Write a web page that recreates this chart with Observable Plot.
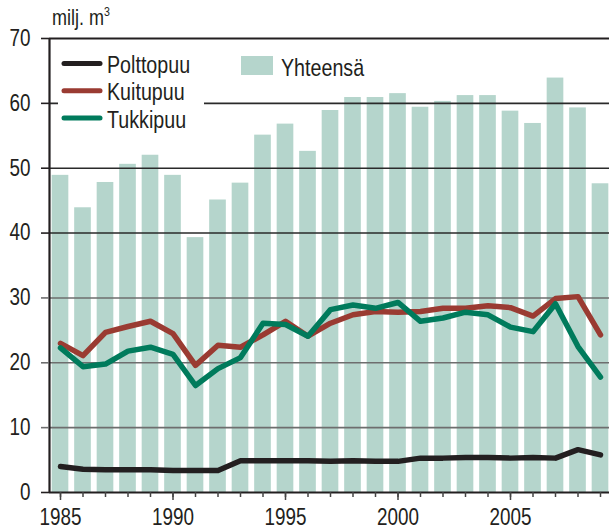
<!DOCTYPE html>
<html>
<head>
<meta charset="utf-8">
<script src="https://cdn.jsdelivr.net/npm/d3@7"></script>
<script src="https://cdn.jsdelivr.net/npm/@observablehq/plot@0.6"></script>
<style>
  html, body { margin: 0; padding: 0; background: #fff; }
  #wrap { position: relative; width: 609px; height: 531px; overflow: hidden;
          font-family: "Liberation Sans", Arial, sans-serif; color: #231f20; }
  #legend { position: absolute; left: 0; top: 0; }
</style>
</head>
<body>
<div id="wrap">
  <div id="chart"></div>
  <svg id="legend" width="609" height="140"></svg>
</div>
<script>
const years = d3.range(1985, 2010);
const yhteensa = [48.9, 43.9, 47.8, 50.6, 52.0, 48.9, 39.3, 45.1, 47.7, 55.1, 56.8, 52.6, 58.9, 60.9, 60.9, 61.5, 59.4, 60.3, 61.2, 61.2, 58.8, 56.9, 63.9, 59.3, 47.6];
const kuitupuu = [23.0, 21.1, 24.7, 25.6, 26.4, 24.5, 19.6, 22.7, 22.4, 24.3, 26.4, 24.1, 26.1, 27.4, 27.9, 27.8, 27.9, 28.4, 28.4, 28.8, 28.5, 27.2, 29.9, 30.2, 24.3];
const tukkipuu = [22.3, 19.4, 19.8, 21.8, 22.4, 21.3, 16.5, 19.1, 20.8, 26.1, 25.9, 24.1, 28.2, 28.9, 28.4, 29.3, 26.4, 26.9, 27.8, 27.4, 25.5, 24.8, 29.1, 22.5, 17.8];
const polttopuu = [4.0, 3.6, 3.5, 3.5, 3.5, 3.4, 3.4, 3.4, 4.9, 4.9, 4.9, 4.9, 4.8, 4.9, 4.8, 4.8, 5.3, 5.3, 5.4, 5.4, 5.3, 5.4, 5.3, 6.6, 5.8];
const yTicks = [0, 10, 20, 30, 40, 50, 60, 70];
const xLabelTicks = [1985, 1990, 1995, 2000, 2005];
const seriesNames = ["Polttopuu", "Kuitupuu", "Tukkipuu"];
const barName = "Yhteensä";
const unitLabel = "milj. m";
const unitSup = "3";

const colors = { Polttopuu: "#231f20", Kuitupuu: "#9a3b32", Tukkipuu: "#007b5c" };
const barColor = "#b5d5cc";
const font = '"Liberation Sans", Arial, sans-serif';
const narrow = 0.82;

const bars = years.map((y, i) => ({ year: y, total: yhteensa[i] }));
const lineData = [];
const seriesValues = { Polttopuu: polttopuu, Kuitupuu: kuitupuu, Tukkipuu: tukkipuu };
for (const s of seriesNames) years.forEach((y, i) => lineData.push({ year: y, series: s, value: seriesValues[s][i] }));

const xDomain = [1984.511, 2009.4];
const halfBar = 0.37;

const chart = Plot.plot({
  width: 609,
  height: 531,
  marginLeft: 49,
  marginRight: 0,
  marginTop: 38,
  marginBottom: 39,
  style: { fontFamily: font, fontSize: "23px", color: "#231f20", background: "transparent" },
  x: { type: "linear", domain: xDomain },
  y: { domain: [0, 70] },
  marks: [
    Plot.rectY(bars, { x1: d => d.year - halfBar, x2: d => d.year + halfBar, y1: 0, y2: "total", fill: barColor }),
    Plot.ruleY(yTicks.filter(v => v > 0 && v < 70), { y: d => d, stroke: d => d >= 40 ? "#2a2a2a" : "#6e6e6e", strokeWidth: 1.6 }),
    Plot.line(lineData, { x: "year", y: "value", z: "series", stroke: d => colors[d.series], strokeWidth: 5.5, strokeLinejoin: "round", strokeLinecap: "round" }),
    Plot.ruleY([70], { stroke: "#231f20", strokeWidth: 2 }),
    Plot.ruleY([0], { stroke: "#231f20", strokeWidth: 2 }),
    Plot.ruleX([xDomain[0]], { y1: 0, y2: 70, stroke: "#231f20", strokeWidth: 2.2 }),
    Plot.axisY(yTicks, { anchor: "left", tickSize: 8, tickPadding: 11, label: null, stroke: d => d >= 40 || d === 0 ? "#231f20" : "#6e6e6e", strokeWidth: 1.6, fontSize: 23 }),
    Plot.axisX(years, { anchor: "bottom", tickSize: 5, tickFormat: () => "", label: null, stroke: "#444", strokeWidth: 1.5 }),
    Plot.axisX(xLabelTicks, { anchor: "bottom", tickSize: 8, tickPadding: 8, tickFormat: d => String(d), label: null, stroke: "#444", strokeWidth: 1.5, fontSize: 23 })
  ]
});
document.getElementById("chart").appendChild(chart);

// legend and unit label
const lg = d3.select("#legend");
const unit = lg.append("text").attr("x", 52).attr("y", 25)
  .attr("font-family", font).attr("font-size", 22).attr("fill", "#231f20").text(unitLabel);
unit.append("tspan").attr("dy", -9).attr("font-size", 13).text(unitSup);

lg.append("rect").attr("x", 58).attr("y", 50).attr("width", 146).attr("height", 80).attr("fill", "#fff");
seriesNames.forEach((s, i) => {
  const cy = 63.5 + i * 27.2;
  lg.append("line").attr("x1", 64).attr("x2", 100).attr("y1", cy).attr("y2", cy)
    .attr("stroke", colors[s]).attr("stroke-width", 5).attr("stroke-linecap", "round");
  lg.append("text").attr("x", 107).attr("y", cy + 1).attr("dy", "0.36em")
    .attr("font-family", font).attr("font-size", 24).attr("fill", "#231f20").text(s);
});
lg.append("rect").attr("x", 241).attr("y", 56).attr("width", 32).attr("height", 19).attr("fill", barColor);
lg.append("text").attr("x", 281).attr("y", 67).attr("dy", "0.36em")
  .attr("font-family", font).attr("font-size", 24).attr("fill", "#231f20").text(barName);

// narrow the lettering (condensed face is not installed)
function condense(node) {
  d3.select(node).selectAll("text").each(function() {
    if (!this.textContent) return;
    const b = this.getBBox();
    const anchor = getComputedStyle(this).textAnchor || this.getAttribute("text-anchor") || "start";
    const ax = anchor === "end" ? b.x + b.width : anchor === "middle" ? b.x + b.width / 2 : b.x;
    const t = this.getAttribute("transform") || "";
    this.setAttribute("transform", `${t} translate(${ax},0) scale(${narrow},1) translate(${-ax},0)`);
  });
}
condense(chart);
condense(document.getElementById("legend"));
</script>
</body>
</html>
